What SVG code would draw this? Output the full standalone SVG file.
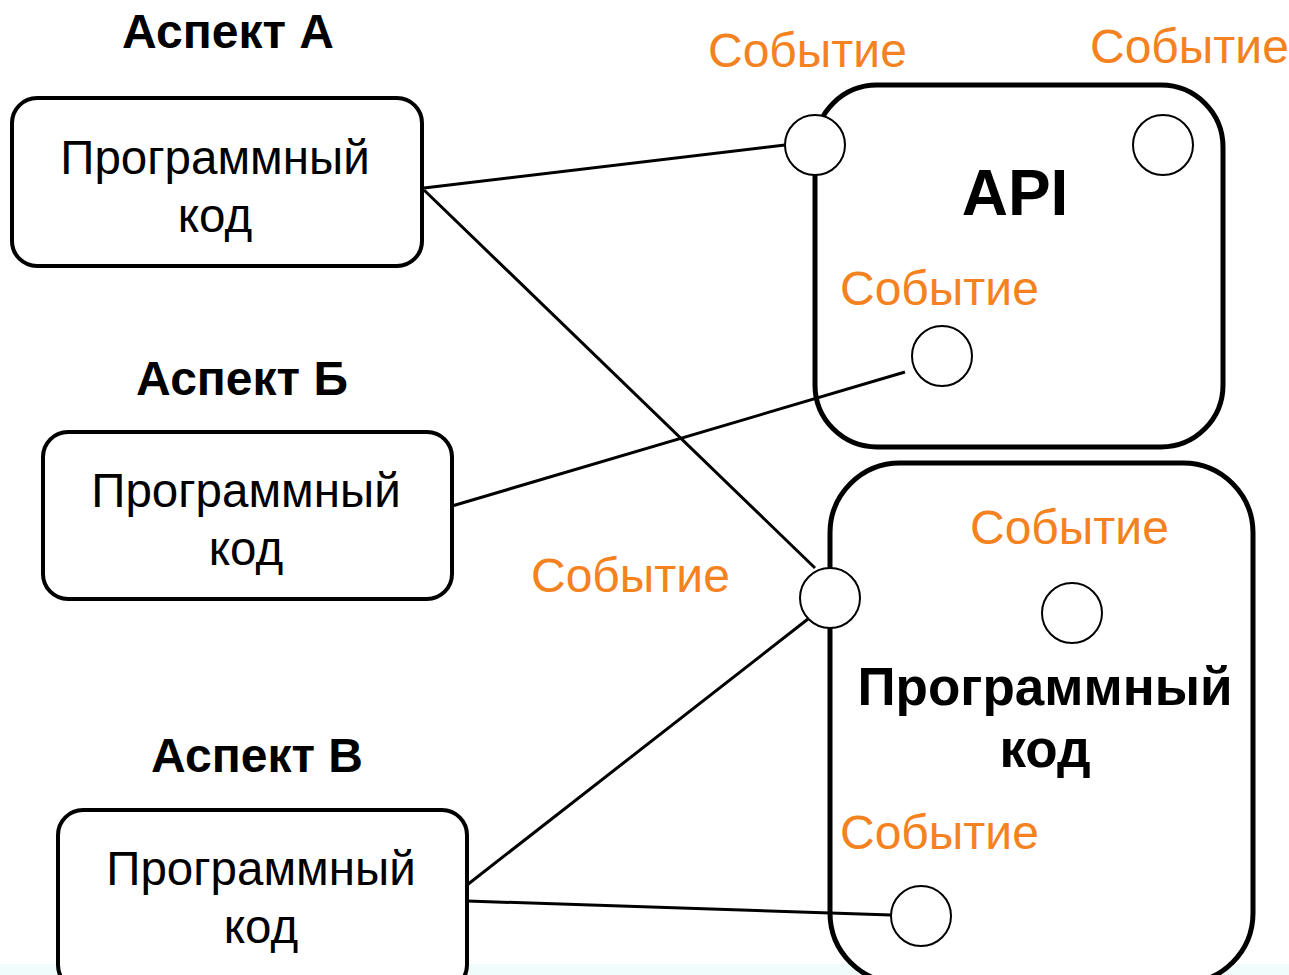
<svg xmlns="http://www.w3.org/2000/svg" width="1289" height="975" viewBox="0 0 1289 975">
<style>
.box{fill:#fff;stroke:#000;stroke-width:4}
.big{fill:#fff;stroke:#000;stroke-width:5}
.port{fill:#fff;stroke:#000;stroke-width:2}
.ln{stroke:#000;stroke-width:3;fill:none}
.t{font-family:"Liberation Sans",Arial,sans-serif;font-size:47.5px;fill:#000;text-anchor:middle}
.h{font-family:"Liberation Sans",Arial,sans-serif;font-size:48px;font-weight:bold;fill:#000;text-anchor:middle}
.ev{font-family:"Liberation Sans",Arial,sans-serif;font-size:48px;fill:#F58220}
.b{font-family:"Liberation Sans",Arial,sans-serif;font-weight:bold;fill:#000;text-anchor:middle}
</style>
<rect x="0" y="0" width="1289" height="975" fill="#fff"/>
<rect x="0" y="964" width="1289" height="11" fill="#f0fbfb"/>
<g id="api">
<rect class="big" x="815" y="85" width="408" height="362" rx="62"/>
<text class="b" x="1015" y="215" font-size="64">API</text>
</g>
<g id="core">
<rect class="big" x="830" y="463" width="423" height="520" rx="70"/>
<text class="b" x="1045" y="705" font-size="53">Программный</text>
<text class="b" x="1045" y="767" font-size="53">код</text>
</g>
<g id="aspectA">
<text class="h" x="228" y="48">Аспект А</text>
<rect class="box" x="12" y="98" width="410" height="168" rx="25"/>
<text class="t" x="215" y="174">Программный</text>
<text class="t" x="215" y="232">код</text>
</g>
<g id="aspectB">
<text class="h" x="242" y="395">Аспект Б</text>
<rect class="box" x="43" y="432" width="409" height="167" rx="25"/>
<text class="t" x="246" y="507">Программный</text>
<text class="t" x="246" y="565">код</text>
</g>
<g id="aspectV">
<text class="h" x="257" y="772">Аспект В</text>
<rect class="box" x="58" y="810" width="409" height="180" rx="25"/>
<text class="t" x="261" y="885">Программный</text>
<text class="t" x="261" y="943">код</text>
</g>
<g id="connectors">
<line class="ln" x1="424" y1="188" x2="785" y2="145"/>
<line class="ln" x1="424" y1="190" x2="815" y2="568"/>
<line class="ln" x1="452" y1="506" x2="905" y2="372"/>
<line class="ln" x1="467" y1="885" x2="808" y2="619"/>
<line class="ln" x1="467" y1="901" x2="891" y2="915"/>
</g>
<g id="events">
<circle class="port" cx="815" cy="145" r="30"/>
<circle class="port" cx="1163" cy="145" r="30"/>
<circle class="port" cx="942" cy="356" r="30"/>
<circle class="port" cx="830" cy="598" r="30"/>
<circle class="port" cx="1072" cy="613" r="30"/>
<circle class="port" cx="921" cy="916" r="30"/>
<text class="ev" x="708" y="67">Событие</text>
<text class="ev" x="1090" y="63">Событие</text>
<text class="ev" x="840" y="305">Событие</text>
<text class="ev" x="970" y="544">Событие</text>
<text class="ev" x="531" y="592">Событие</text>
<text class="ev" x="840" y="849">Событие</text>
</g>
</svg>
